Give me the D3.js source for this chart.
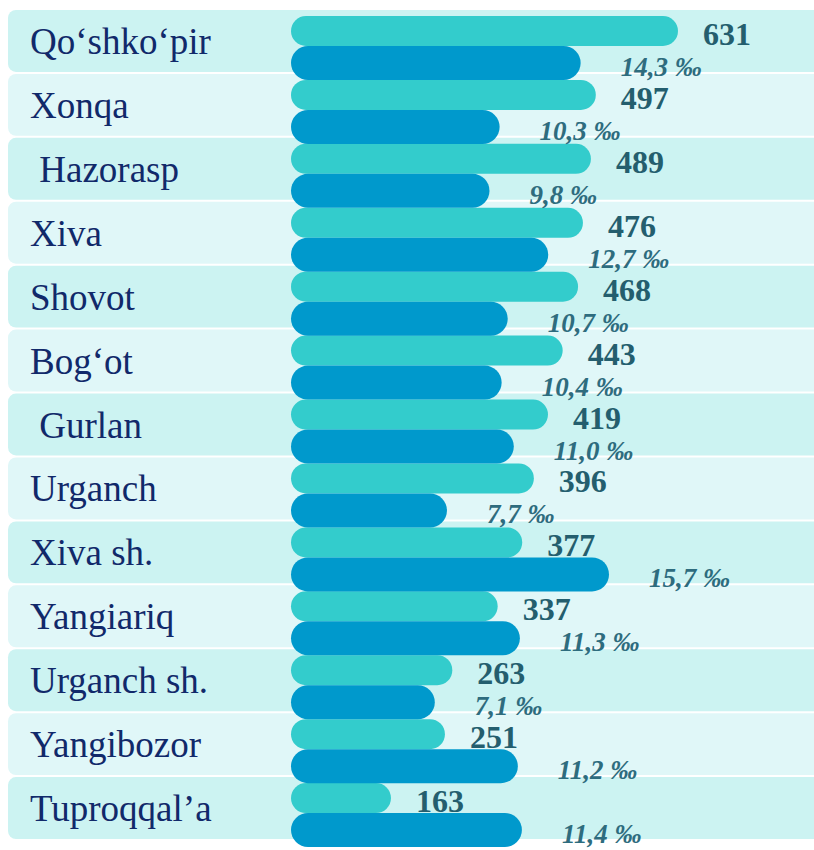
<!DOCTYPE html>
<html>
<head>
<meta charset="utf-8">
<script src="https://cdn.jsdelivr.net/npm/d3@7"></script>
<style>
  body { margin: 0; background: #fff; }
  svg text { white-space: pre; font-family: 'Liberation Serif', 'DejaVu Serif', 'Times New Roman', serif; }
</style>
</head>
<body>
<div id="chart"></div>
<script>
// districts, top to bottom
const regions = ['Qo‘shko‘pir', 'Xonqa', ' Hazorasp', 'Xiva', 'Shovot', 'Bog‘ot', ' Gurlan',
  'Urganch', 'Xiva sh.', 'Yangiariq', 'Urganch sh.', 'Yangibozor', 'Tuproqqal’a'];
// absolute numbers (turquoise bars)
const counts = [631, 497, 489, 476, 468, 443, 419, 396, 377, 337, 263, 251, 163];
// rate per mille (blue bars)
const rates = [14.3, 10.3, 9.8, 12.7, 10.7, 10.4, 11.0, 7.7, 15.7, 11.3, 7.1, 11.2, 11.4];

const width = 814, height = 850;
const barX = 291;

const rows = regions.map((r, i) => ({ name: r, count: counts[i], rate: rates[i], i: i }));

const svg = d3.select('#chart')
    .append('svg')
    .attr('width', width)
    .attr('height', height);

const y = d3.scaleBand()
    .domain(d3.range(regions.length))
    .range([10, 841]);

const xCount = d3.scaleLinear()
    .domain([0, d3.max(counts)])
    .range([0, 387]);

const xRate = d3.scaleLinear()
    .domain([0, d3.max(rates)])
    .range([0, 318]);

// row backgrounds
svg.append('g').selectAll('rect')
    .data(rows)
    .enter()
    .append('rect')
    .attr('x', 8)
    .attr('y', d => y(d.i))
    .attr('width', 830)
    .attr('height', y.bandwidth() - 2)
    .attr('rx', 8)
    .attr('fill', d => d.i % 2 ? '#e0f7f8' : '#ccf3f2');

// region names
svg.append('g').selectAll('text')
    .data(rows)
    .enter()
    .append('text')
    .attr('x', 30)
    .attr('y', d => y(d.i) + 44)
    .attr('font-size', 37)
    .attr('fill', '#11296a')
    .text(d => d.name);

// turquoise bars
svg.append('g').selectAll('rect')
    .data(rows)
    .enter()
    .append('rect')
    .attr('x', barX)
    .attr('y', d => y(d.i) + 6)
    .attr('width', d => xCount(d.count))
    .attr('height', 30)
    .attr('rx', 15)
    .attr('fill', '#33cccc');

// blue bars
svg.append('g').selectAll('rect')
    .data(rows)
    .enter()
    .append('rect')
    .attr('x', barX)
    .attr('y', d => y(d.i) + 36)
    .attr('width', d => xRate(d.rate))
    .attr('height', 34)
    .attr('rx', 17)
    .attr('fill', '#0099cc');

// count labels
svg.append('g').selectAll('text')
    .data(rows)
    .enter()
    .append('text')
    .attr('x', d => barX + xCount(d.count) + 25)
    .attr('y', d => y(d.i) + 35)
    .attr('font-size', 32)
    .attr('font-weight', 'bold')
    .attr('fill', '#245e6e')
    .text(d => d.count);

// per mille labels
svg.append('g').selectAll('text')
    .data(rows)
    .enter()
    .append('text')
    .attr('x', d => barX + xRate(d.rate) + 40)
    .attr('y', d => y(d.i) + 66)
    .attr('font-size', 27)
    .attr('font-weight', 'bold')
    .attr('font-style', 'italic')
    .attr('fill', '#2e6c7e')
    .text(d => d.rate.toFixed(1).replace('.', ',') + ' ‰');
</script>
</body>
</html>
